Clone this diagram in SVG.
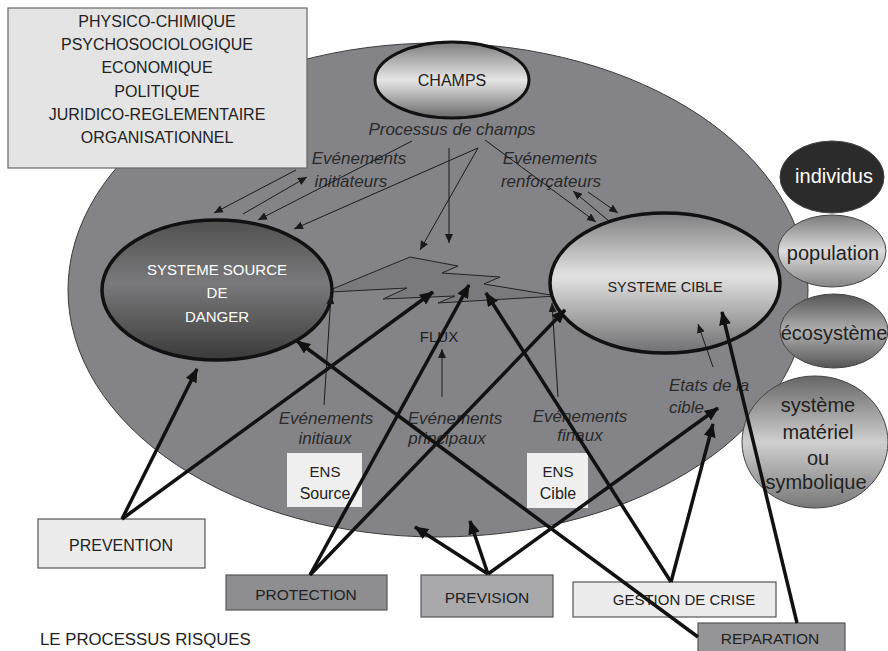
<svg xmlns="http://www.w3.org/2000/svg" width="888" height="651" viewBox="0 0 888 651">
<defs>
<linearGradient id="gChamps" x1="0" y1="0" x2="0" y2="1">
<stop offset="0" stop-color="#7c7c7c"/><stop offset="0.5" stop-color="#e6e6e6"/><stop offset="1" stop-color="#6a6a6a"/>
</linearGradient>
<linearGradient id="gSource" x1="0" y1="0" x2="0" y2="1">
<stop offset="0" stop-color="#505050"/><stop offset="0.45" stop-color="#7a7a7c"/><stop offset="1" stop-color="#3a3a3a"/>
</linearGradient>
<linearGradient id="gCible" x1="0" y1="0" x2="0" y2="1">
<stop offset="0" stop-color="#808082"/><stop offset="0.45" stop-color="#e2e2e2"/><stop offset="1" stop-color="#707072"/>
</linearGradient>
<linearGradient id="gPop" x1="0" y1="0" x2="0" y2="1">
<stop offset="0" stop-color="#7a7a7a"/><stop offset="0.5" stop-color="#dcdcdc"/><stop offset="1" stop-color="#858585"/>
</linearGradient>
<linearGradient id="gEco" x1="0" y1="0" x2="0" y2="1">
<stop offset="0" stop-color="#555"/><stop offset="0.5" stop-color="#b0b0b0"/><stop offset="1" stop-color="#555"/>
</linearGradient>
<linearGradient id="gSys" x1="0" y1="0" x2="0" y2="1">
<stop offset="0" stop-color="#666"/><stop offset="0.5" stop-color="#cfcfcf"/><stop offset="1" stop-color="#777"/>
</linearGradient>
<marker id="aThin" markerUnits="userSpaceOnUse" markerWidth="9" markerHeight="8" refX="9" refY="4" orient="auto">
<path d="M0,0 L9,4 L0,8 z" fill="#1a1a1a"/>
</marker>
<marker id="aThick" markerUnits="userSpaceOnUse" markerWidth="14" markerHeight="12" refX="13" refY="6" orient="auto">
<path d="M0,0 L14,6 L0,12 z" fill="#111"/>
</marker>
</defs>
<style>
text{font-family:"Liberation Sans",Arial,sans-serif;fill:#222;text-anchor:middle}
.it{font-style:italic;font-size:17px;fill:#2a2a2a}
.cap{font-size:16px}
.w{fill:#fff}
.lo{font-size:20px}
.thin{stroke:#1a1a1a;stroke-width:1;fill:none;marker-end:url(#aThin)}
.line{stroke:#1a1a1a;stroke-width:1;fill:none}
.thick{stroke:#111;stroke-width:3.5;fill:none;marker-end:url(#aThick)}
.thickL{stroke:#111;stroke-width:3.5;fill:none}
.box{stroke:#555;stroke-width:1.2}
</style>

<g id="domain">
<ellipse cx="438" cy="290" rx="370" ry="247" fill="#848488" stroke="#3a3a3a" stroke-width="1"/>
</g>

<g id="contexts">
<rect x="8" y="8" width="299" height="160" fill="#e4e4e4" stroke="#666" stroke-width="1.2"/>
<text class="cap" x="157" y="27">PHYSICO-CHIMIQUE</text>
<text class="cap" x="157" y="50">PSYCHOSOCIOLOGIQUE</text>
<text class="cap" x="157" y="73">ECONOMIQUE</text>
<text class="cap" x="157" y="97">POLITIQUE</text>
<text class="cap" x="157" y="120">JURIDICO-REGLEMENTAIRE</text>
<text class="cap" x="157" y="143">ORGANISATIONNEL</text>
</g>

<g id="champs">
<ellipse cx="452" cy="80" rx="77" ry="38" fill="url(#gChamps)" stroke="#111" stroke-width="3"/>
<text class="cap" x="452" y="86">CHAMPS</text>
</g>

<g id="flux">
<polygon points="330,290 410,257 458,266 442,273 500,277 484,284 557,296 438,303 455,296 383,299 407,288 330,292" fill="#7a7a7e" stroke="#222" stroke-width="1"/>
<text x="439" y="342" style="font-size:15px">FLUX</text>
</g>

<g id="source">
<ellipse cx="217" cy="290" rx="115" ry="70" fill="url(#gSource)" stroke="#111" stroke-width="3.5"/>
<text class="w" x="217" y="275" style="font-size:15px">SYSTEME SOURCE</text>
<text class="w" x="217" y="298" style="font-size:15px">DE</text>
<text class="w" x="217" y="322" style="font-size:15px">DANGER</text>
</g>

<g id="cible">
<ellipse cx="665" cy="283" rx="115" ry="70" fill="url(#gCible)" stroke="#111" stroke-width="3.5"/>
<text x="665" y="292" style="font-size:14.5px">SYSTEME CIBLE</text>
</g>

<g id="individus">
<ellipse cx="832" cy="177" rx="52" ry="36" fill="#2b2b2b" stroke="#444" stroke-width="1"/>
<text class="lo w" x="834" y="183">individus</text>
</g>
<g id="population">
<ellipse cx="832" cy="251" rx="54" ry="36" fill="url(#gPop)" stroke="#444" stroke-width="1"/>
<text class="lo" x="833" y="260">population</text>
</g>
<g id="ecosysteme">
<ellipse cx="834" cy="331" rx="54" ry="37" fill="url(#gEco)" stroke="#444" stroke-width="1"/>
<text class="lo" x="834" y="340">écosystème</text>
</g>
<g id="systeme">
<ellipse cx="815" cy="442" rx="73" ry="66" fill="url(#gSys)" stroke="#444" stroke-width="1"/>
<text class="lo" x="818" y="412">système</text>
<text class="lo" x="818" y="439">matériel</text>
<text class="lo" x="818" y="465">ou</text>
<text class="lo" x="816" y="489">symbolique</text>
</g>

<g id="labels">
<text class="it" x="452" y="135">Processus de champs</text>
<text class="it" x="359" y="164">Evénements</text>
<text class="it" x="351" y="187">initiateurs</text>
<text class="it" x="550" y="164">Evénements</text>
<text class="it" x="551" y="187">renforçateurs</text>
<text class="it" x="326" y="424">Evénements</text>
<text class="it" x="325" y="444">initiaux</text>
<text class="it" x="455" y="424">Evénements</text>
<text class="it" x="447" y="444">principaux</text>
<text class="it" x="580" y="422">Evénements</text>
<text class="it" x="580" y="441">finaux</text>
<text class="it" x="669" y="391" style="text-anchor:start">Etats de la</text>
<text class="it" x="669" y="413" style="text-anchor:start">cible</text>
</g>

<g id="ens-source">
<rect x="287" y="453" width="75" height="54" fill="#efefef"/>
<text x="325" y="477" style="font-size:15px">ENS</text>
<text x="325" y="499" style="font-size:16px">Source</text>
</g>
<g id="ens-cible">
<rect x="527" y="453" width="61" height="55" fill="#efefef"/>
<text x="558" y="477" style="font-size:15px">ENS</text>
<text x="558" y="499" style="font-size:16px">Cible</text>
</g>

<g id="prevention">
<rect class="box" x="38" y="519" width="167" height="49" fill="#ececec"/>
<text class="cap" x="121" y="551">PREVENTION</text>
</g>
<g id="protection">
<rect class="box" x="226" y="575" width="161" height="35" fill="#8e8e90"/>
<text x="306" y="600" style="font-size:15.5px">PROTECTION</text>
</g>
<g id="prevision">
<rect class="box" x="421" y="575" width="132" height="42" fill="#a9a9ab"/>
<text x="487" y="603" style="font-size:15.5px">PREVISION</text>
</g>
<g id="gestion">
<rect class="box" x="573" y="582" width="203" height="35" fill="#ececec"/>
<text x="684" y="605" style="font-size:15px">GESTION DE CRISE</text>
</g>
<g id="reparation">
<rect class="box" x="698" y="623" width="147" height="32" fill="#959597"/>
<text x="770" y="644" style="font-size:15.5px">REPARATION</text>
</g>

<text x="40" y="645" style="font-size:16.8px;text-anchor:start">LE PROCESSUS RISQUES</text>

<g id="connectors">
<line class="thin" x1="296" y1="170" x2="214" y2="213"/>
<line class="thin" x1="243" y1="214" x2="307" y2="177"/>
<line class="thin" x1="412" y1="141" x2="258" y2="220"/>
<line class="thin" x1="478" y1="148" x2="294" y2="229"/>
<line class="thin" x1="478" y1="148" x2="420" y2="250"/>
<line class="thin" x1="449" y1="148" x2="449" y2="243"/>
<line class="thin" x1="485" y1="140" x2="596" y2="222"/>
<line class="thin" x1="609" y1="221" x2="573" y2="191"/>
<line class="thin" x1="588" y1="192" x2="618" y2="213"/>
<line class="thin" x1="324" y1="405" x2="331" y2="295"/>
<line class="thin" x1="442" y1="397" x2="442" y2="349"/>
<line class="thin" x1="558" y1="397" x2="552" y2="303"/>
<line class="thin" x1="713" y1="367" x2="698" y2="324"/>

<line class="thick" x1="122" y1="519" x2="197" y2="369"/>
<line class="thick" x1="122" y1="519" x2="433" y2="292"/>
<line class="thick" x1="310" y1="575" x2="469" y2="285"/>
<line class="thick" x1="310" y1="575" x2="565" y2="310"/>
<line class="thick" x1="488" y1="574" x2="415" y2="527"/>
<line class="thick" x1="488" y1="574" x2="470" y2="521"/>
<line class="thick" x1="488" y1="574" x2="718" y2="408"/>
<line class="thick" x1="671" y1="582" x2="486" y2="293"/>
<line class="thick" x1="671" y1="582" x2="713" y2="424"/>
<line class="thick" x1="698" y1="637" x2="297" y2="341"/>
<line class="thick" x1="797" y1="623" x2="722" y2="312"/>
</g>
</svg>
